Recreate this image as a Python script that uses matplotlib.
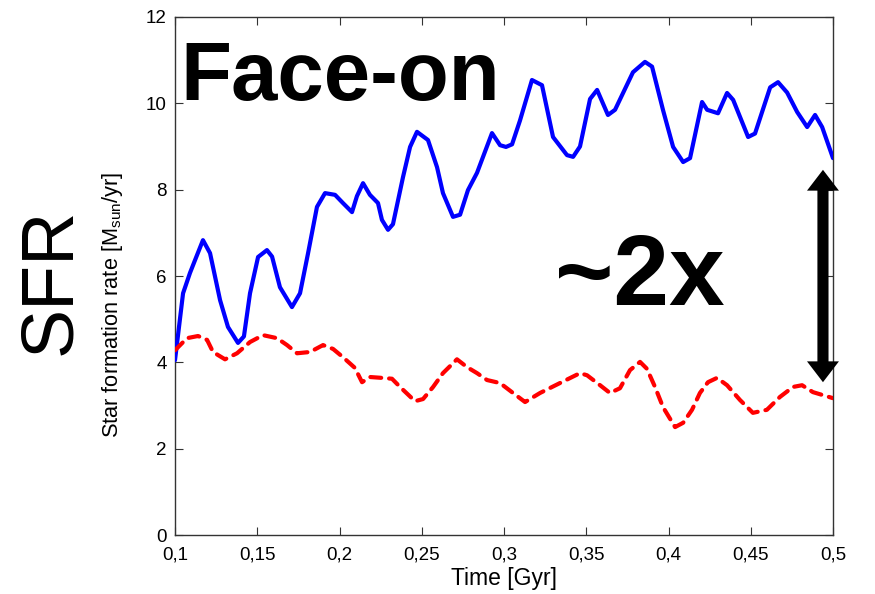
import matplotlib
matplotlib.use("Agg")
import matplotlib.pyplot as plt
from matplotlib import font_manager

names = {f.name for f in font_manager.fontManager.ttflist}
narrow = "Liberation Sans Narrow" if "Liberation Sans Narrow" in names else "Liberation Sans"

# Star formation history, face-on run (solid blue)
t_face = [0.1000, 0.1049, 0.1091, 0.1122, 0.1170, 0.1213, 0.1274, 0.1322, 0.1383, 0.1419,
          0.1456, 0.1505, 0.1559, 0.1590, 0.1638, 0.1711, 0.1760, 0.1809, 0.1863, 0.1912,
          0.1973, 0.2021, 0.2076, 0.2106, 0.2143, 0.2185, 0.2234, 0.2258, 0.2295, 0.2325,
          0.2386, 0.2429, 0.2471, 0.2538, 0.2593, 0.2629, 0.2690, 0.2733, 0.2781, 0.2836,
          0.2927, 0.2976, 0.3012, 0.3049, 0.3097, 0.3170, 0.3231, 0.3298, 0.3383, 0.3420,
          0.3462, 0.3523, 0.3566, 0.3632, 0.3675, 0.3784, 0.3857, 0.3900, 0.3967, 0.4028,
          0.4089, 0.4131, 0.4204, 0.4235, 0.4301, 0.4356, 0.4393, 0.4484, 0.4526, 0.4618,
          0.4666, 0.4721, 0.4782, 0.4843, 0.4891, 0.4934, 0.5000]
sfr_face = [4.05, 5.60, 6.07, 6.37, 6.83, 6.53, 5.44, 4.82, 4.45, 4.60,
            5.60, 6.44, 6.60, 6.45, 5.74, 5.28, 5.60, 6.53, 7.60, 7.92,
            7.88, 7.69, 7.48, 7.85, 8.15, 7.88, 7.69, 7.30, 7.07, 7.20,
            8.29, 8.99, 9.34, 9.15, 8.52, 7.92, 7.37, 7.42, 7.99, 8.39,
            9.31, 9.03, 8.99, 9.05, 9.60, 10.54, 10.42, 9.22, 8.80, 8.76,
            9.00, 10.10, 10.31, 9.73, 9.85, 10.72, 10.96, 10.85, 9.84, 8.99,
            8.64, 8.73, 10.03, 9.85, 9.77, 10.24, 10.08, 9.22, 9.30, 10.37,
            10.49, 10.25, 9.80, 9.45, 9.73, 9.45, 8.73]

# Star formation history, comparison run (dashed red)
t_edge = [0.1000, 0.1073, 0.1140, 0.1195, 0.1231, 0.1304, 0.1377, 0.1456, 0.1535, 0.1620,
          0.1681, 0.1742, 0.1821, 0.1900, 0.1961, 0.2021, 0.2094, 0.2137, 0.2185, 0.2258,
          0.2319, 0.2368, 0.2459, 0.2508, 0.2569, 0.2629, 0.2714, 0.2775, 0.2836, 0.2897,
          0.2976, 0.3055, 0.3128, 0.3219, 0.3340, 0.3462, 0.3505, 0.3584, 0.3644, 0.3705,
          0.3766, 0.3827, 0.3869, 0.3918, 0.3967, 0.4040, 0.4089, 0.4143, 0.4191, 0.4240,
          0.4295, 0.4356, 0.4434, 0.4513, 0.4598, 0.4678, 0.4757, 0.4812, 0.4878, 0.5000]
sfr_edge = [4.28, 4.56, 4.61, 4.52, 4.24, 4.07, 4.21, 4.47, 4.63, 4.56,
            4.40, 4.21, 4.24, 4.40, 4.31, 4.12, 3.87, 3.54, 3.66, 3.64,
            3.62, 3.43, 3.10, 3.15, 3.43, 3.75, 4.07, 3.89, 3.75, 3.59,
            3.52, 3.29, 3.08, 3.29, 3.52, 3.75, 3.70, 3.47, 3.29, 3.40,
            3.82, 4.01, 3.85, 3.43, 2.96, 2.50, 2.60, 2.90, 3.29, 3.54,
            3.64, 3.47, 3.13, 2.83, 2.90, 3.20, 3.43, 3.47, 3.31, 3.17]

x_ticks = [0.1, 0.15, 0.2, 0.25, 0.3, 0.35, 0.4, 0.45, 0.5]
x_tick_labels = ["0,1", "0,15", "0,2", "0,25", "0,3", "0,35", "0,4", "0,45", "0,5"]
y_ticks = [0, 2, 4, 6, 8, 10, 12]

# the "~2x" double arrow: position in time and its two tips (data units)
arrow_t = 0.4939
arrow_low, arrow_high = 3.54, 8.46

fig = plt.figure(figsize=(8.75, 5.94), dpi=100)
ax = fig.add_axes([0.2, 0.0993, 0.752, 0.8721])

ax.plot(t_face, sfr_face, color="#0000ff", lw=3.0, solid_joinstyle="round",
        solid_capstyle="round", zorder=3)
ax.plot(t_edge, sfr_edge, color="#ff0000", lw=3.0, ls=(0, (2.6, 1.9)),
        dash_capstyle="round", zorder=3)

ax.set_xlim(0.1, 0.5)
ax.set_ylim(0, 12)
ax.set_xticks(x_ticks)
ax.set_xticklabels(x_tick_labels)
ax.set_yticks(y_ticks)
ax.tick_params(direction="in", length=6, width=0.8, color="#333333",
               top=True, right=True, labelsize=13.5)
ax.tick_params(axis="x", pad=8)
ax.tick_params(axis="y", pad=6)
for lab in ax.get_xticklabels() + ax.get_yticklabels():
    lab.set_family(narrow)
for sp in ax.spines.values():
    sp.set_linewidth(1.0)
    sp.set_color("#333333")

ax.set_xlabel("Time [Gyr]", fontsize=16.5, family=narrow)
ax.xaxis.set_label_coords(0.5, -0.062)
ax.set_ylabel(r"Star formation rate [M$_{\mathregular{sun}}$/yr]", fontsize=15.7,
              family=narrow)
ax.yaxis.set_label_coords(-0.076, 0.444)

ax.text(0.1030, 10.08, "Face-on", fontsize=60, fontweight="bold",
        family="Liberation Sans", ha="left", va="baseline", zorder=5)
ax.text(0.3827, 5.33, "~2x", fontsize=72, fontweight="bold",
        family="Liberation Sans", ha="center", va="baseline", zorder=5)
fig.text(0.058, 0.527, "SFR", fontsize=53, family="Liberation Sans",
         rotation=90, ha="center", va="center")

# two filled arrows from the middle out to each tip
arrow_mid = 0.5 * (arrow_low + arrow_high)
for tip in (arrow_high, arrow_low):
    ax.annotate("", xy=(arrow_t, tip), xytext=(arrow_t, arrow_mid),
                arrowprops=dict(arrowstyle="simple,head_length=15,head_width=23,tail_width=8",
                                mutation_scale=1, lw=0, fc="black", ec="none",
                                shrinkA=0, shrinkB=0), zorder=6)

fig.savefig("out.png", dpi=100)
